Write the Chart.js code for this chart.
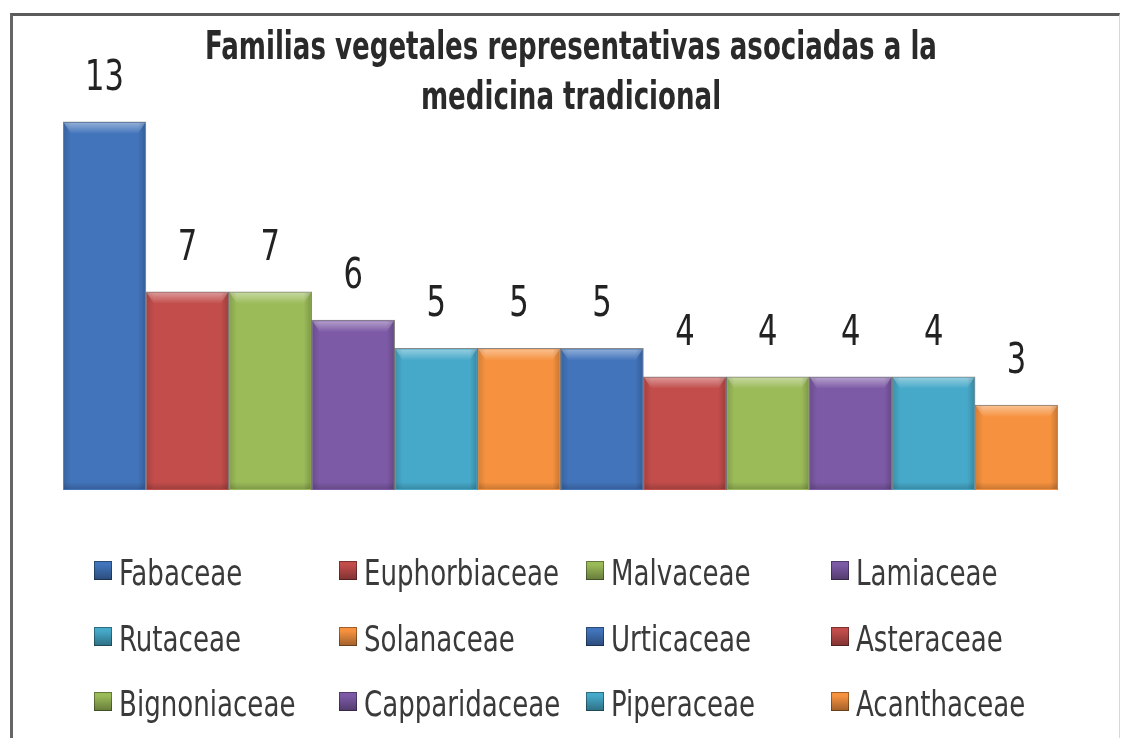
<!DOCTYPE html>
<html>
<head>
<meta charset="utf-8">
<script src="https://cdn.jsdelivr.net/npm/chart.js@4.4.1/dist/chart.umd.min.js"></script>
<style>
  html, body { margin: 0; padding: 0; background: #fff; }
  #wrap { position: relative; width: 1122px; height: 738px; overflow: hidden; }
  #frame { position: absolute; left: 10px; top: 13px; width: 1106px; height: 800px;
           border-top: 3px solid #5b5b5b; border-left: 3px solid #666; border-right: 1px solid #d8d8d8; }
  canvas { position: absolute; left: 0; top: 0; }
  #legend { position: absolute; left: 0; top: 0; width: 1122px; height: 738px;
            font-family: 'Liberation Sans Narrow', 'DejaVu Sans Condensed', sans-serif;
            font-size: 29px; color: #3a3a3a; }
  .item { position: absolute; height: 40px; line-height: 40px; white-space: nowrap; }
  .txt { display: inline-block; transform: scaleY(1.25); transform-origin: left center; }
  .sw { position: absolute; width: 18px; height: 19px; left: -25px; top: 9px; }
</style>
</head>
<body>
<div id="wrap">
  <div id="frame"></div>
  <canvas id="chart" width="1122" height="738"></canvas>
  <div id="legend"></div>
</div>
<script>
const familias = ["Fabaceae", "Euphorbiaceae", "Malvaceae", "Lamiaceae",
                  "Rutaceae", "Solanaceae", "Urticaceae", "Asteraceae",
                  "Bignoniaceae", "Capparidaceae", "Piperaceae", "Acanthaceae"];
const especies = [13, 7, 7, 6, 5, 5, 5, 4, 4, 4, 4, 3];
const tituloLineas = ["Familias vegetales representativas asociadas a la", "medicina tradicional"];

// office style palette, repeats every 6 bars
const paleta = ['#4274bb', '#c24d4b', '#9bbb59', '#7d5aa6', '#46a9c9', '#f6923f'];
const colores = familias.map((f, i) => paleta[i % paleta.length]);
const FONT_NARROW = "'Liberation Sans Narrow', 'DejaVu Sans Condensed', sans-serif";

/* legend as html grid, 4 columns x 3 rows */
const colX = [119, 364, 611, 856];
const rowY = [572, 638, 703];
const legendEl = document.getElementById('legend');
familias.forEach((f, i) => {
  const it = document.createElement('div');
  it.className = 'item';
  it.style.left = colX[i % 4] + 'px';
  it.style.top = (rowY[Math.floor(i / 4)] - 20) + 'px';
  it.innerHTML = '<span class="sw"></span><span class="txt">' + f + '</span>';
  const sw = it.querySelector('.sw');
  sw.style.background = 'linear-gradient(' + colores[i] + ' 20%, rgba(0,0,0,0.35))';
  sw.style.backgroundColor = colores[i];
  sw.style.boxShadow = 'inset 0 0 0 1px rgba(0,0,0,0.35)';
  legendEl.appendChild(it);
});

// text drawn a bit taller than wide, like the stretched original
function tallText(ctx, t, x, y, sy) {
  ctx.save();
  ctx.translate(x, y);
  ctx.scale(1, sy);
  ctx.fillText(t, 0, 0);
  ctx.restore();
}

/* bevel look + value labels + title */
const decor = {
  id: 'decor',
  afterDatasetsDraw(chart) {
    const ctx = chart.ctx;
    chart.getDatasetMeta(0).data.forEach(bar => {
      const p = bar.getProps(['x', 'y', 'base', 'width'], true);
      const l = p.x - p.width / 2, r = p.x + p.width / 2;
      ctx.save();
      let g = ctx.createLinearGradient(0, p.y, 0, p.y + 12);
      g.addColorStop(0, 'rgba(255,255,255,0.45)');
      g.addColorStop(1, 'rgba(255,255,255,0)');
      ctx.fillStyle = g;
      ctx.beginPath();
      ctx.moveTo(l + 1, p.y + 1); ctx.lineTo(r - 1, p.y + 1);
      ctx.lineTo(r - 8, p.y + 12); ctx.lineTo(l + 8, p.y + 12);
      ctx.closePath(); ctx.fill();
      g = ctx.createLinearGradient(l, 0, l + 8, 0);
      g.addColorStop(0, 'rgba(0,0,0,0.15)');
      g.addColorStop(1, 'rgba(0,0,0,0)');
      ctx.fillStyle = g;
      ctx.fillRect(l + 1, p.y + 1, 8, p.base - p.y - 2);
      g = ctx.createLinearGradient(r, 0, r - 8, 0);
      g.addColorStop(0, 'rgba(0,0,0,0.2)');
      g.addColorStop(1, 'rgba(0,0,0,0)');
      ctx.fillStyle = g;
      ctx.fillRect(r - 9, p.y + 1, 8, p.base - p.y - 2);
      g = ctx.createLinearGradient(0, p.base, 0, p.base - 8);
      g.addColorStop(0, 'rgba(0,0,0,0.2)');
      g.addColorStop(1, 'rgba(0,0,0,0)');
      ctx.fillStyle = g;
      ctx.fillRect(l + 1, p.base - 9, p.width - 2, 8);
      ctx.restore();
    });
  },
  afterDraw(chart) {
    const ctx = chart.ctx;
    ctx.save();
    ctx.textAlign = 'center';
    ctx.textBaseline = 'middle';
    ctx.fillStyle = '#222';
    ctx.font = '34px ' + FONT_NARROW;
    const meta = chart.getDatasetMeta(0);
    meta.data.forEach((bar, i) => {
      tallText(ctx, String(especies[i]), bar.x, bar.y - 43, 1.25);
    });
    ctx.fillStyle = '#2a2a2a';
    ctx.font = 'bold 29px ' + FONT_NARROW;
    tituloLineas.forEach((t, i) => tallText(ctx, t, 571, 49 + i * 50, 1.32));
    ctx.restore();
  }
};

new Chart(document.getElementById('chart'), {
  type: 'bar',
  data: {
    labels: familias,
    datasets: [{
      data: especies,
      backgroundColor: colores,
      borderColor: 'rgba(40,40,40,0.55)',
      borderWidth: 1,
      categoryPercentage: 1,
      barPercentage: 1
    }]
  },
  options: {
    responsive: false,
    animation: false,
    events: [],
    layout: { padding: { top: 37, bottom: 248, left: 63, right: 64 } },
    scales: {
      x: { display: false },
      y: { display: false, min: 0, max: 16 }
    },
    plugins: {
      legend: { display: false },
      title: { display: false },
      tooltip: { enabled: false }
    }
  },
  plugins: [decor]
});
</script>
</body>
</html>
